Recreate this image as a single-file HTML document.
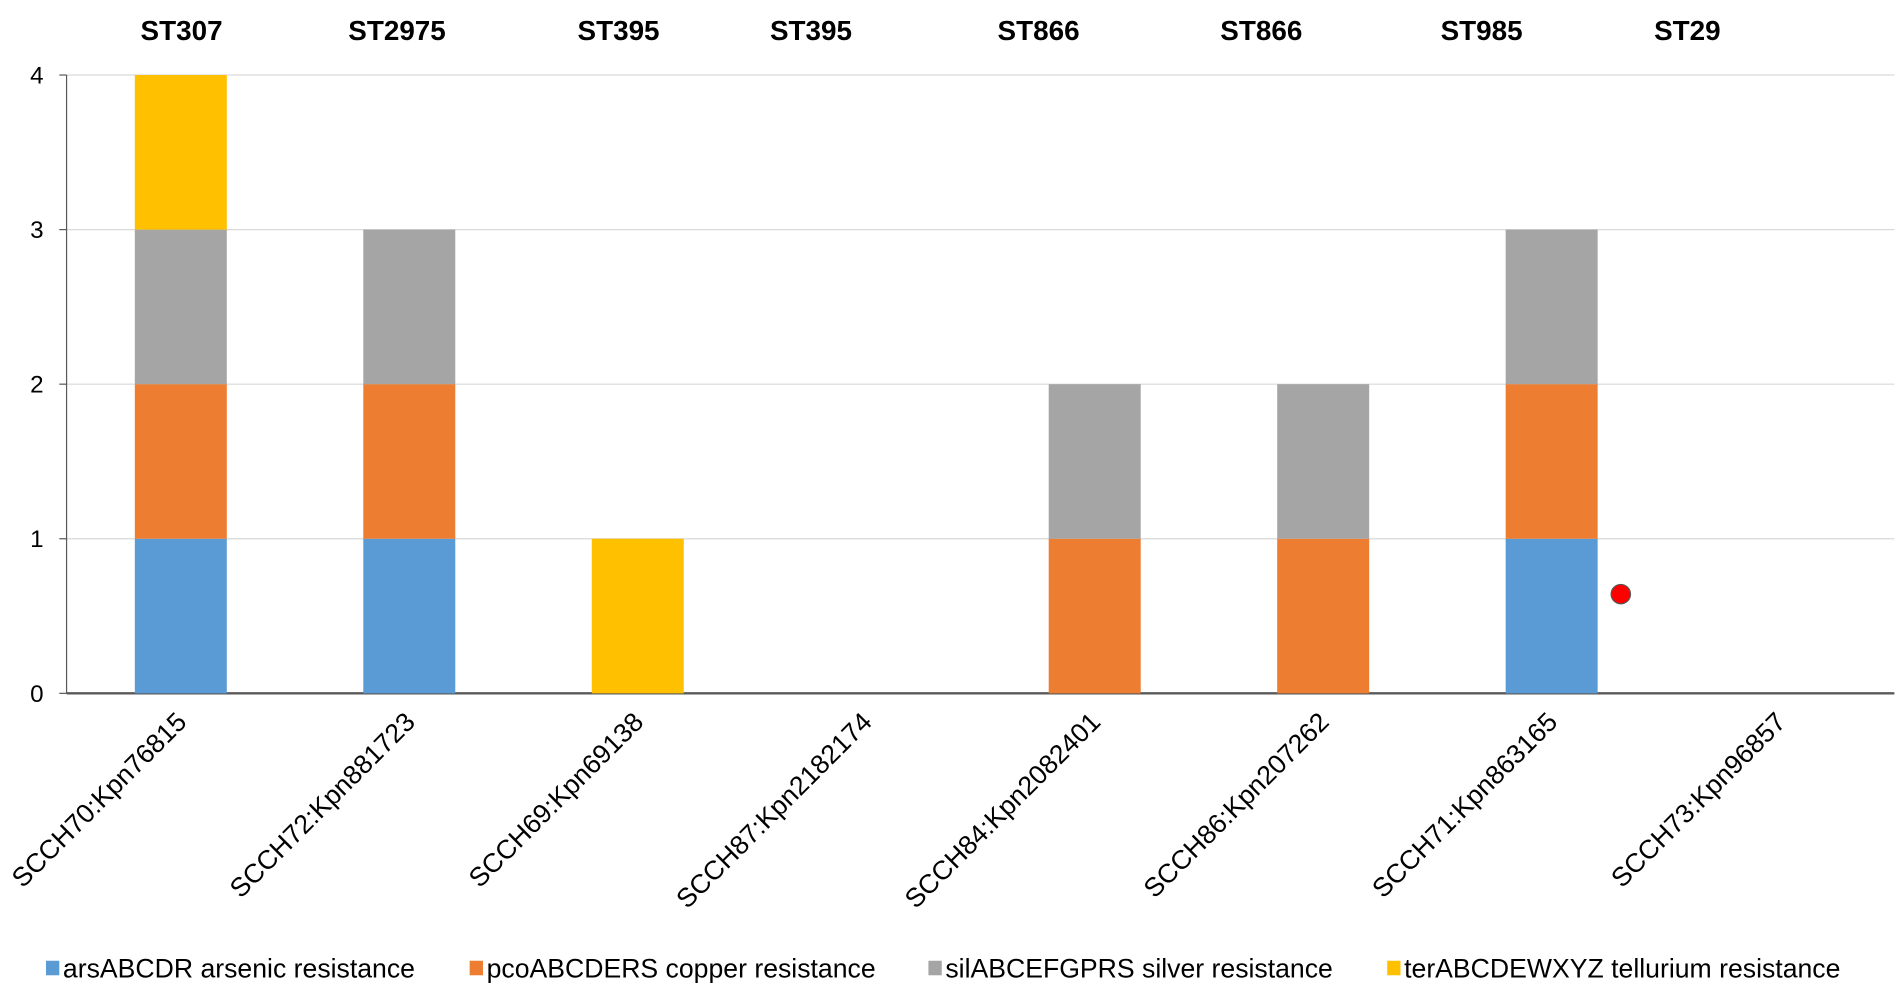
<!DOCTYPE html>
<html><head><meta charset="utf-8"><style>
html,body{margin:0;padding:0;background:#fff;}
svg{display:block;font-family:"Liberation Sans",Arial,sans-serif;}
</style></head><body>
<svg id="chart" width="1898" height="991" viewBox="0 0 1568 819" preserveAspectRatio="none" xmlns="http://www.w3.org/2000/svg">
<g id="grid"></g><g id="bars"></g><g id="labels"></g>
</svg>
<script>
const categories=["SCCH70:Kpn76815","SCCH72:Kpn881723","SCCH69:Kpn69138","SCCH87:Kpn2182174","SCCH84:Kpn2082401","SCCH86:Kpn207262","SCCH71:Kpn863165","SCCH73:Kpn96857"];
const stLabels=["ST307","ST2975","ST395","ST395","ST866","ST866","ST985","ST29"];
const stX=[150,328,511,670,858,1042,1224,1394];
const seriesNames=["arsABCDR arsenic resistance","pcoABCDERS copper resistance","silABCEFGPRS silver resistance","terABCDEWXYZ tellurium resistance"];
const seriesColors=["#5b9bd5","#ed7d31","#a5a5a5","#ffc000"];
const arsValues=[1,1,0,0,0,0,1,0];
const pcoValues=[1,1,0,0,1,1,1,0];
const silValues=[1,1,0,0,1,1,1,0];
const terValues=[1,0,1,0,0,0,0,0];
const yTicks=[0,1,2,3,4];
const NS="http://www.w3.org/2000/svg";
const L=55,R=1565,Y0=573,Y4=62,bw=76;
const y=v=>Y0-(Y0-Y4)*v/4;
const xc=i=>L+(R-L)/categories.length*(i+0.5);
function mk(t,a,p){const e=document.createElementNS(NS,t);for(const k in a)e.setAttribute(k,a[k]);p.appendChild(e);return e;}
const g=document.getElementById('grid'),b=document.getElementById('bars'),lb=document.getElementById('labels');
yTicks.forEach(v=>{
 const ln=mk('line',{x1:L,x2:R,y1:y(v),y2:y(v),stroke:v?'#d9d9d9':'#595959','stroke-width':v?1:2},g);
 
 
 mk('line',{x1:L-6,x2:L,y1:y(v),y2:y(v),stroke:'#595959'},g);
 const t=mk('text',{x:36,y:y(v)+7,'text-anchor':'end','font-size':20,fill:'#000'},lb);t.textContent=v;
 
 
});
mk('line',{x1:L,x2:L,y1:Y4,y2:Y0,stroke:'#595959'},g);
const series=[arsValues,pcoValues,silValues,terValues];
categories.forEach((c,i)=>{
 let base=0;
 series.forEach((s,k)=>{
  if(s[i]>0){
   const r=mk('rect',{x:xc(i)-bw/2,y:y(base+s[i]),width:bw,height:y(base)-y(base+s[i]),fill:seriesColors[k]},b);
   
   
   base+=s[i];
  }
 });
 const t=mk('text',{transform:`translate(${xc(i)+6},${598}) rotate(-45)`,'text-anchor':'end','font-size':22,fill:'#000'},lb);
 t.textContent=c;
 
 
 const s=mk('text',{x:stX[i],y:33,'text-anchor':'middle','font-size':23,'font-weight':'bold',fill:'#000'},lb);
 s.textContent=stLabels[i];
 
 
});
const dot=mk('circle',{cx:1339,cy:491,r:8,fill:'#ff0000',stroke:'#555','stroke-width':1},b);


const legX=[38,388,767,1146];
seriesNames.forEach((n,k)=>{
 const r=mk('rect',{x:legX[k],y:794,width:11,height:12,fill:seriesColors[k]},lb);
 
 
 const t=mk('text',{x:legX[k]+14,y:808,'font-size':22,fill:'#000'},lb);t.textContent=n;
 
 
});
</script>
</body></html>
